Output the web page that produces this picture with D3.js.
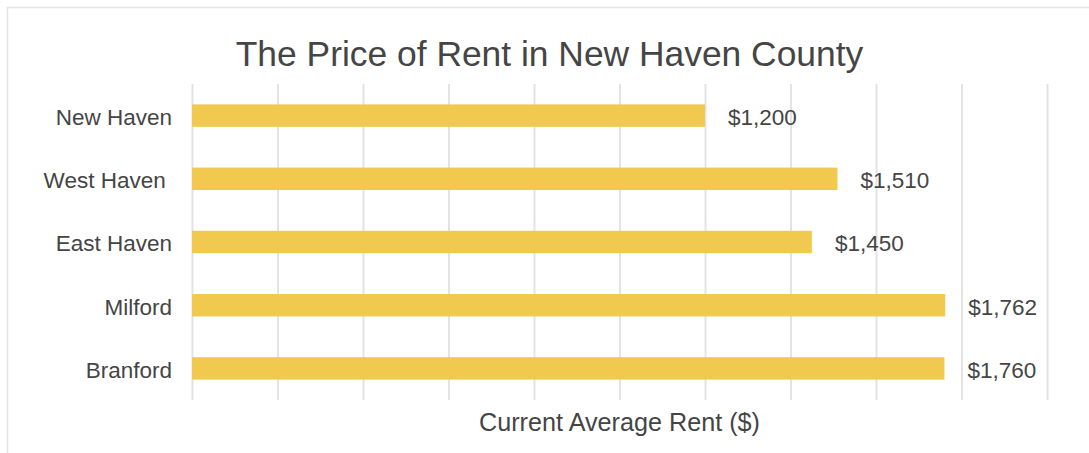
<!DOCTYPE html>
<html>
<head>
<meta charset="utf-8">
<script src="https://cdn.jsdelivr.net/npm/d3@7"></script>
<style>
  html, body { margin: 0; padding: 0; background: #fff; }
  svg text { font-family: "Liberation Sans", Arial, Helvetica, sans-serif; fill: #454545; white-space: pre; }
</style>
</head>
<body>
<svg id="chart" width="1089" height="453"></svg>
<script>
const categories = ["New Haven", "West Haven ", "East Haven", "Milford", "Branford"];
const rents = [1200, 1510, 1450, 1762, 1760];
const valueLabels = ["$1,200", "$1,510", "$1,450", "$1,762", "$1,760"];
const gridTicks = [0, 200, 400, 600, 800, 1000, 1200, 1400, 1600, 1800, 2000];
const chartTitle = "The Price of Rent in New Haven County";
const axisTitle = "Current Average Rent ($)";

const data = categories.map((c, i) => ({ cat: c, value: rents[i], label: valueLabels[i] }));

const svg = d3.select("#chart");
const W = 1089, H = 453;
const plot = { left: 192, right: 1047, top: 84, bottom: 400 };

// frame
svg.append("rect")
  .attr("x", 7.5).attr("y", 7.5)
  .attr("width", W + 20).attr("height", H + 20)
  .attr("fill", "none").attr("stroke", "#e4e4e4").attr("stroke-width", 1.5);

const x = d3.scaleLinear().domain([0, 2000]).range([plot.left, plot.right]);
const y = d3.scaleBand().domain(categories).range([plot.top, plot.bottom])
  .paddingInner(0.645).paddingOuter(0.3225);

// gridlines via axis
const grid = svg.append("g")
  .attr("transform", `translate(0,${plot.bottom})`)
  .call(d3.axisBottom(x).tickValues(gridTicks).tickSize(-(plot.bottom - plot.top)).tickFormat(""));
grid.select(".domain").remove();
grid.selectAll(".tick line").attr("stroke", "#e3e3e3").attr("stroke-width", 2);

// bars
svg.append("g").selectAll("rect").data(data).join("rect")
  .attr("x", x(0))
  .attr("y", d => y(d.cat))
  .attr("width", d => x(d.value) - x(0))
  .attr("height", y.bandwidth())
  .attr("fill", "#F1C94F");

// category labels
svg.append("g").selectAll("text").data(data).join("text")
  .attr("x", 172)
  .attr("y", d => y(d.cat) + y.bandwidth() / 2)
  .attr("dy", "0.42em")
  .attr("text-anchor", "end")
  .attr("font-size", 22.5)
  .text(d => d.cat);

// value labels
svg.append("g").selectAll("text").data(data).join("text")
  .attr("x", d => x(d.value) + 23)
  .attr("y", d => y(d.cat) + y.bandwidth() / 2)
  .attr("dy", "0.42em")
  .attr("font-size", 22.5)
  .text(d => d.label);

// title
svg.append("text")
  .attr("x", 549.5).attr("y", 66)
  .attr("text-anchor", "middle")
  .attr("font-size", 35.4)
  .text(chartTitle);

// axis title
svg.append("text")
  .attr("x", (plot.left + plot.right) / 2).attr("y", 430.5)
  .attr("text-anchor", "middle")
  .attr("font-size", 25.2)
  .text(axisTitle);
</script>
</body>
</html>
